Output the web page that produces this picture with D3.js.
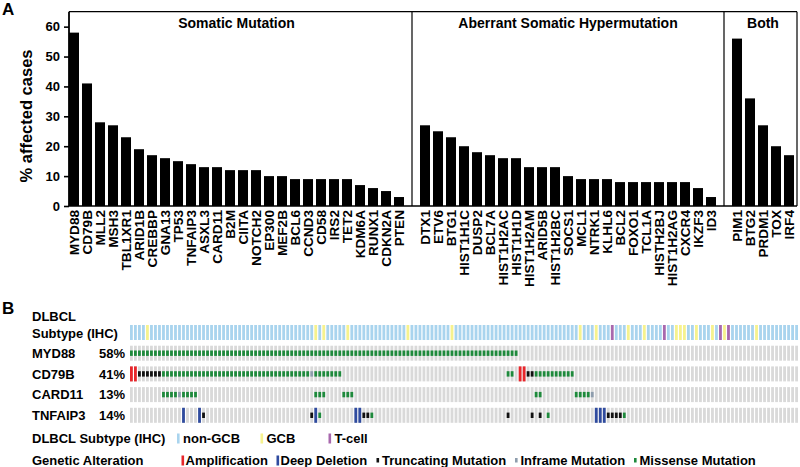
<!DOCTYPE html>
<html><head><meta charset="utf-8">
<script src="https://cdn.jsdelivr.net/npm/d3@7"></script>
<style>
body{margin:0;background:#fff;}
svg{display:block;}
svg text{font-family:"Liberation Sans",Arial,sans-serif;font-weight:700;fill:#000;}
</style>
</head><body><svg id="c" width="800" height="467"></svg>
<script>
// ---------- Panel A data ----------
const somaticGenes = ["MYD88","CD79B","MLL2","MSH3","TBL1XR1","ARID1B","CREBBP","GNA13","TP53","TNFAIP3","ASXL3","CARD11","B2M","CIITA","NOTCH2","EP300","MEF2B","BCL6","CCND3","CD58","IRS2","TET2","KDM6A","RUNX1","CDKN2A","PTEN"];
const somaticValues = [58,41,28,27,23,19,17,16,15,14,13,13,12,12,12,10,10,9,9,9,9,9,7,6,5,3];
const ashGenes = ["DTX1","ETV6","BTG1","HIST1H1C","DUSP2","BCL7A","HIST1H2AC","HIST1H1D","HIST1H2AM","ARID5B","HIST1H2BC","SOCS1","MCL1","NTRK1","KLHL6","BCL2","FOXO1","TCL1A","HISTH2BJ","HIST1H2AG","CXCR4","IKZF3","ID3"];
const ashValues = [27,25,23,20,18,17,16,16,13,13,13,10,9,9,9,8,8,8,8,8,8,6,3];
const bothGenes = ["PIM1","BTG2","PRDM1","TOX","IRF4"];
const bothValues = [56,36,27,20,17];
const sectionTitles = ["Somatic Mutation","Aberrant Somatic Hypermutation","Both"];
const yTicks = [0,10,20,30,40,50,60];
const yTitle = "% affected cases";

// ---------- Panel B data ----------
const nCases = 167;
const gcbCases = [4,46,48,54,69,80,112,116,124,128,136,137,138,141,145,148,156];
const tcellCases = [120,133,147,149];
const oncoGenes = ["MYD88","CD79B","CARD11","TNFAIP3"];
const oncoPct = ["58%","41%","13%","14%"];
const myd88Runs = [[0,96,"MIS"]];
const cd79bRuns = [[0,1,"AMP"],[2,7,"TRUNC"],[8,44,"MIS"],[45,45,"INF"],[46,52,"MIS"],[94,95,"MIS"],[97,98,"AMP"],[99,100,"TRUNC"],[101,110,"MIS"]];
const card11Runs = [[8,11,"MIS"],[12,12,"INF"],[13,16,"MIS"],[46,48,"MIS"],[53,55,"MIS"],[101,102,"MIS"],[111,114,"MIS"],[115,115,"INF"]];
const tnfaip3Runs = [[13,13,"DEL"],[17,17,"DEL"],[18,18,"TRUNC"],[45,45,"TRUNC"],[46,46,"DEL"],[47,47,"MIS"],[56,57,"DEL"],[58,59,"TRUNC"],[60,60,"MIS"],[94,94,"TRUNC"],[100,100,"TRUNC"],[102,102,"TRUNC"],[104,104,"MIS"],[116,118,"DEL"],[119,122,"TRUNC"],[123,123,"MIS"]];
const subtypeLegend = [["NON","non-GCB"],["GCB","GCB"],["TC","T-cell"]];
const alterLegend = [["AMP","Amplification"],["DEL","Deep Deletion"],["TRUNC","Truncating Mutation"],["INF","Inframe Mutation"],["MIS","Missense Mutation"]];

const colors = {NON:"#a9d4ee",GCB:"#f6f28e",TC:"#a868ad",BG:"#d9d9d9",MIS:"#1e8a3c",TRUNC:"#111111",INF:"#8e9dad",AMP:"#e8262b",DEL:"#2f4b9f"};

const svg = d3.select("#c");

// ===== Panel A =====
svg.append("text").attr("x",2).attr("y",15).attr("font-size",17).text("A");

const slots = [...somaticGenes,"gap1",...ashGenes,"gap2",...bothGenes];
const barData = [
  ...somaticGenes.map((g,i)=>({g,v:somaticValues[i]})),
  ...ashGenes.map((g,i)=>({g,v:ashValues[i]})),
  ...bothGenes.map((g,i)=>({g,v:bothValues[i]}))
];
const x = d3.scaleBand().domain(slots).range([67.5,795.5]).paddingInner(0.23).paddingOuter(0.115);
const y = d3.scaleLinear().domain([0,65]).range([206,11.7]);
const xl = 69, xr = 797, yt = y(65), yb = y(0);

svg.append("g").selectAll("rect").data(barData).join("rect")
  .attr("x",d=>x(d.g)).attr("width",x.bandwidth())
  .attr("y",d=>y(d.v)).attr("height",d=>y(0)-y(d.v)).attr("fill","#000");

// frame
const fr = svg.append("g").attr("stroke","#000").attr("fill","none");
fr.append("line").attr("x1",xl).attr("x2",xr).attr("y1",yt).attr("y2",yt).attr("stroke-width",1.2);
fr.append("line").attr("x1",xr).attr("x2",xr).attr("y1",yt).attr("y2",yb).attr("stroke-width",1.2);
["gap1","gap2"].forEach(g=>{
  const cx = x(g)+x.bandwidth()/2;
  fr.append("line").attr("x1",cx).attr("x2",cx).attr("y1",yt).attr("y2",yb).attr("stroke-width",1.2);
});
fr.append("line").attr("x1",xl).attr("x2",xr).attr("y1",yb).attr("y2",yb).attr("stroke-width",1.6);

// y axis
const ya = svg.append("g").attr("transform",`translate(${xl},0)`)
  .call(d3.axisLeft(y).tickValues(yTicks).tickSize(5).tickPadding(4));
ya.attr("font-family",null).attr("font-size",null);
ya.select(".domain").attr("stroke-width",1.8).attr("d",`M0,${yt}V${yb}`);
ya.selectAll(".tick line").attr("stroke-width",1.6);
ya.selectAll("text").attr("font-size",13);

svg.append("text").attr("transform","translate(32,116) rotate(-90)")
  .attr("text-anchor","middle").attr("font-size",16.5).text(yTitle);

// section titles
const sections = [[somaticGenes[0],somaticGenes[somaticGenes.length-1]],[ashGenes[0],ashGenes[ashGenes.length-1]],[bothGenes[0],bothGenes[bothGenes.length-1]]];
sections.forEach((s,i)=>{
  const cx = (x(s[0]) + x(s[1]) + x.bandwidth())/2;
  svg.append("text").attr("x",cx).attr("y",27.5).attr("text-anchor","middle").attr("font-size",14).text(sectionTitles[i]);
});

// x labels
svg.append("g").selectAll("text").data(barData).join("text")
  .attr("transform",d=>`translate(${x(d.g)+x.bandwidth()/2},210) rotate(-90)`)
  .attr("text-anchor","end").attr("dy","0.36em").attr("font-size",13.6).text(d=>d.g);

// ===== Panel B =====
svg.append("text").attr("x",2).attr("y",314).attr("font-size",17).text("B");

const cx = d3.scaleBand().domain(d3.range(nCases)).range([130,798]).paddingInner(0.3).paddingOuter(0);
const rows = ["subtype",...oncoGenes];
const ry = d3.scaleBand().domain(rows).range([325,422.8]).paddingInner(0.275).paddingOuter(0);
const rh = ry.bandwidth();

// subtype row
const subtypeOf = d3.range(nCases).map(i=> gcbCases.includes(i)?"GCB":(tcellCases.includes(i)?"TC":"NON"));
svg.append("g").selectAll("rect").data(subtypeOf).join("rect")
  .attr("x",(d,i)=>cx(i)).attr("width",cx.bandwidth()).attr("y",ry("subtype")).attr("height",rh)
  .attr("fill",d=>colors[d]);

svg.append("text").attr("x",32).attr("y",321).attr("font-size",13).text("DLBCL");
svg.append("text").attr("x",32).attr("y",338).attr("font-size",13).text("Subtype (IHC)");

const runsByGene = {MYD88:myd88Runs,CD79B:cd79bRuns,CARD11:card11Runs,TNFAIP3:tnfaip3Runs};
oncoGenes.forEach((g,gi)=>{
  const y0 = ry(g);
  const gr = svg.append("g");
  gr.selectAll("rect.bg").data(d3.range(nCases)).join("rect").attr("class","bg")
    .attr("x",i=>cx(i)).attr("width",cx.bandwidth()).attr("y",y0).attr("height",rh).attr("fill",colors.BG);
  const cells = [];
  runsByGene[g].forEach(r=>{ for(let i=r[0];i<=r[1];i++) cells.push({i,t:r[2]}); });
  gr.selectAll("rect.m").data(cells).join("rect").attr("class","m")
    .attr("x",d=>cx(d.i)).attr("width",cx.bandwidth())
    .attr("y",d=> (d.t==="AMP"||d.t==="DEL") ? y0 : y0+rh/2-2.7)
    .attr("height",d=> (d.t==="AMP"||d.t==="DEL") ? rh : 5.4)
    .attr("fill",d=>colors[d.t]);
  svg.append("text").attr("x",32).attr("y",y0+rh/2+4.6).attr("font-size",13).text(g);
  svg.append("text").attr("x",125).attr("y",y0+rh/2+4.6).attr("font-size",13).attr("text-anchor","end").text(oncoPct[gi]);
});

// legends
svg.append("text").attr("x",32).attr("y",443).attr("font-size",13).text("DLBCL Subtype (IHC)");
svg.append("text").attr("x",32).attr("y",465).attr("font-size",13).text("Genetic Alteration");

const leg1X = [177, 260.5, 328.5];
subtypeLegend.forEach((d,i)=>{
  svg.append("rect").attr("x",leg1X[i]).attr("y",433.5).attr("width",2.6).attr("height",10).attr("fill",colors[d[0]]);
  svg.append("text").attr("x",leg1X[i]+6).attr("y",443).attr("font-size",13).text(d[1]);
});
const leg2X = [181.5, 276.5, 376.5, 515, 634];
alterLegend.forEach((d,i)=>{
  const full = d[0]==="AMP"||d[0]==="DEL";
  svg.append("rect").attr("x",leg2X[i]).attr("y",full?455.5:458).attr("width",2.6).attr("height",full?10:4.5).attr("fill",colors[d[0]]);
  svg.append("text").attr("x",leg2X[i]+(full?4:5.5)).attr("y",465).attr("font-size",13).text(d[1]);
});
</script>
</body></html>
